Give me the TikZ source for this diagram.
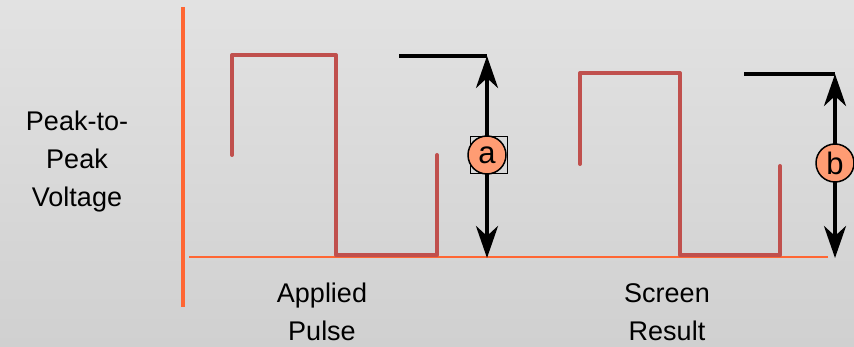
\documentclass[tikz,border=0pt]{standalone}
\usepackage{fontspec}
\setmainfont{Liberation Sans}
\usetikzlibrary{arrows.meta}
\definecolor{axisor}{RGB}{255,102,51}
\definecolor{pulse}{RGB}{192,80,77}
\definecolor{bubble}{RGB}{255,156,115}
\definecolor{bgtop}{RGB}{226,226,226}
\definecolor{bgbot}{RGB}{208,208,208}
\begin{document}
\begin{tikzpicture}[x=1pt,y=-1pt,
  axisline/.style={draw=axisor},
  pulseline/.style={draw=pulse,line width=4pt,line cap=round,line join=round},
  refline/.style={draw=black,line width=4pt},
  measarrow/.style={draw=black,line width=4pt,{Stealth[length=32pt,width=22pt,inset=10pt]}-{Stealth[length=32pt,width=22pt,inset=10pt]}},
  bubblenode/.style={circle,draw=black,line width=1.5pt,fill=bubble,minimum size=38pt,inner sep=0pt,font=\fontsize{31}{32}\selectfont},
  label/.style={align=center,font=\fontsize{27}{38}\selectfont,text=black}]
\useasboundingbox (0,0) rectangle (854,347);
\shade[top color=bgtop,bottom color=bgbot] (0,0) rectangle (854,347);
% axes
\coordinate (ytop) at (183,7);
\coordinate (ybot) at (183,307);
\draw[axisline,line width=4pt] (ytop) -- (ybot);
\coordinate (bl) at (189,257);
\coordinate (br) at (828,257);
\draw[axisline,line width=2.5pt] (bl) -- (br);
% pulse 1
\coordinate (p1a) at (232,155);
\coordinate (p1b) at (232,55);
\coordinate (p1c) at (336,55);
\coordinate (p1d) at (336,255);
\coordinate (p1e) at (437,255);
\coordinate (p1f) at (437,155);
\draw[pulseline] (p1a) -- (p1b) -- (p1c) -- (p1d) -- (p1e) -- (p1f);
% pulse 2
\coordinate (p2a) at (580,164);
\coordinate (p2b) at (580,73);
\coordinate (p2c) at (680,73);
\coordinate (p2d) at (680,255);
\coordinate (p2e) at (780,255);
\coordinate (p2f) at (780,166);
\draw[pulseline] (p2a) -- (p2b) -- (p2c) -- (p2d) -- (p2e) -- (p2f);
% measurement a
\coordinate (ra0) at (399,56);
\coordinate (ra1) at (487,56);
\coordinate (ra2) at (487,258);
\draw[refline] (ra0) -- (ra1);
\draw[measarrow] (ra1) -- (ra2);
\draw[black,line width=0.8pt,fill=gray!30] (470,136) rectangle (507,173);
\node[bubblenode] (a) at (487,155) {a};
% measurement b
\coordinate (rb0) at (744,74);
\coordinate (rb1) at (835,74);
\coordinate (rb2) at (835,258);
\draw[refline] (rb0) -- (rb1);
\draw[measarrow] (rb1) -- (rb2);
\node[bubblenode] (b) at (835,163) {b};
% labels
\node[label] (ppv) at (77,162) {Peak-to-\\Peak\\Voltage};
\node[label] (ap) at (322,312) {Applied\\Pulse};
\node[label] (sr) at (667,312) {Screen\\Result};
\end{tikzpicture}
\end{document}
